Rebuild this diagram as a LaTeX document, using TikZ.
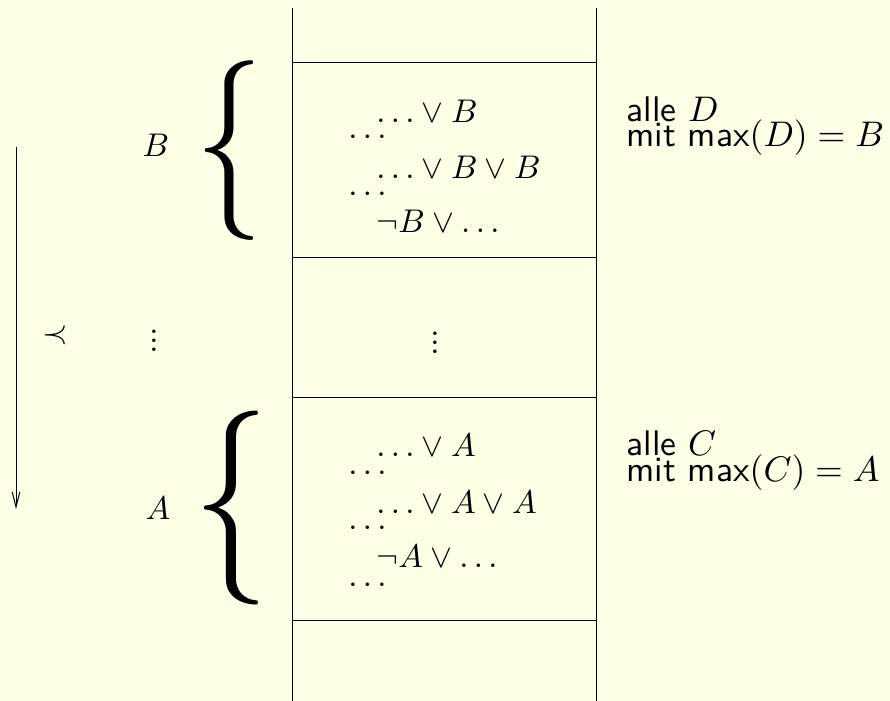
\documentclass[tikz,border=0pt]{standalone}
\usetikzlibrary{arrows.meta}
\definecolor{paper}{RGB}{255,255,230}
% text is set at 10pt and enlarged
\newcommand{\enlarged}[1]{\scalebox{1.64}{#1}}
\newcommand{\noteenlarged}[1]{\scalebox{1.78}{#1}}
\newcommand{\colvdots}{\vbox{\baselineskip2.8pt\lineskiplimit0pt\hbox{.}\hbox{.}\hbox{.}}}
\tikzset{
  rule/.style={line width=0.5pt, black},
  clause/.style={anchor=base west, inner sep=0pt},
  note/.style={anchor=base west, inner sep=0pt, font=\sffamily},
  label/.style={anchor=base, inner sep=0pt},
  brace/.style={inner sep=0pt},
}
\begin{document}
\begin{tikzpicture}[x=0.5pt, y=-0.5pt]
  \fill[paper] (0,0) rectangle (890,701);
  \useasboundingbox (0,0) rectangle (890,701);

  % columns of the clause table
  \coordinate (lt) at (292,8);   \coordinate (lb) at (292,701);
  \coordinate (rt) at (596,8);   \coordinate (rb) at (596,701);
  \draw[rule] (lt) -- (lb);
  \draw[rule] (rt) -- (rb);
  \foreach \y in {63,258,397,620}
    \draw[rule] (292,\y) -- (596,\y);

  % ordering arrow
  \coordinate (atop) at (16,147);
  \coordinate (abot) at (16,509);
  \draw[rule, -{Straight Barb[length=7.5pt, width=3.8pt]}] (atop) -- (abot);
  \node (prec) at (55,335) {\enlarged{$\prec$}};

  % atoms and braces
  \node[label] (labB) at (156,157) {\enlarged{$B$}};
  \node[label] (labA) at (158,519) {\enlarged{$A$}};
  \node (ldots) at (154,341) {\enlarged{\colvdots}};
  \node[brace] (brB) at (229,151) {\resizebox{34pt}{67.4pt}{$\{$}};
  \node[brace] (brA) at (231,508.5) {\resizebox{38pt}{72.7pt}{$\{$}};

  % clauses with maximal atom B
  \node[clause] (b1)  at (376,123) {\enlarged{$\ldots\vee B$}};
  \node[clause] (bd1) at (348,139) {\enlarged{$\ldots$}};
  \node[clause] (b2)  at (376,178) {\enlarged{$\ldots\vee B\vee B$}};
  \node[clause] (bd2) at (348,196) {\enlarged{$\ldots$}};
  \node[clause] (b3)  at (376,233) {\enlarged{$\neg B\vee\ldots$}};

  \node (mdots) at (435,343) {\enlarged{\colvdots}};

  % clauses with maximal atom A
  \node[clause] (a1)  at (376,456) {\enlarged{$\ldots\vee A$}};
  \node[clause] (ad1) at (348,474) {\enlarged{$\ldots$}};
  \node[clause] (a2)  at (376,513) {\enlarged{$\ldots\vee A\vee A$}};
  \node[clause] (ad2) at (348,529) {\enlarged{$\ldots$}};
  \node[clause] (a3)  at (376,567) {\enlarged{$\neg A\vee\ldots$}};
  \node[clause] (ad3) at (348,586) {\enlarged{$\ldots$}};

  % descriptions
  \node[note] (d1) at (626,122) {\noteenlarged{alle $D$}};
  \node[note] (d2) at (626,147) {\noteenlarged{mit max$(D)=B$}};
  \node[note] (c1) at (626,455) {\noteenlarged{alle $C$}};
  \node[note] (c2) at (626,481) {\noteenlarged{mit max$(C)=A$}};
\end{tikzpicture}
\end{document}
